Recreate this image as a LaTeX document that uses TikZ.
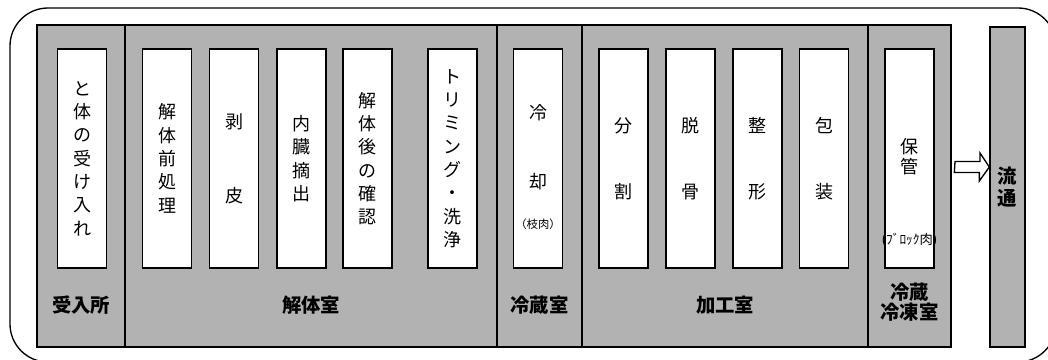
\documentclass[tikz,border=0pt]{standalone}
\usepackage{fontspec}
\setmainfont{Noto Sans CJK JP}

\begin{document}
\begin{tikzpicture}[x=0.75pt, y=-0.75pt,
	room/.style={draw, line width=1pt, fill=black!30},
	stepbox/.style={draw, line width=1.2pt, fill=white, inner sep=0pt,
		minimum width=36.75pt, minimum height=164.25pt},
	boxtext/.style={align=center, font=\fontsize{13.5}{17.5}\selectfont},
	roomname/.style={align=center, font=\fontsize{14.5}{14.5}\selectfont\bfseries},
	note/.style={inner sep=0pt, align=center}]
	\useasboundingbox (0,0) rectangle (1048,360);
	\clip (0,0) rectangle (1048,360);
	\draw[line width=1pt, rounded corners=28.5pt] (10,8) rectangle (1056,362);
	
	% rooms
	\foreach \a/\b/\n in {37/125/1, 125/497/2, 497/582/3, 582/868/4, 868/951/5}
	{
		\draw[room] (\a,25) rectangle (\b,347);
	}
	\node[roomname] (r1) at (81,305) {受入所};
	\node[roomname] (r2) at (311,305) {解体室};
	\node[roomname] (r3) at (539.5,305) {冷蔵室};
	\node[roomname] (r4) at (725,305) {加工室};
	\node[roomname] (r5) at (909.5,302) {冷蔵\\冷凍室};
	
	% working steps
	\foreach \n/\x/\txt in {
		1/82/{と\\体\\の\\受\\け\\入\\れ},
		2/167/{解\\体\\前\\処\\理},
		3/234/{剥\\[38pt]皮},
		4/301.5/{内\\臓\\摘\\出},
		5/367.5/{解\\体\\後\\の\\確\\認},
		6/452.5/{ト\\リ\\ミ\\ン\\グ\\・\\洗\\浄},
		7/538/{},
		8/623.5/{分\\[32pt]割},
		9/690.5/{脱\\[32pt]骨},
		10/757.5/{整\\[32pt]形},
		11/824/{包\\[32pt]装},
		12/909.5/{}
	}
	{
		\node[stepbox, boxtext] (b\n) at (\x,158.5) {\txt};
	}
	\node[boxtext] (cool) at (538,147.5) {冷\\[34.25pt]却};
	\node[note] (coolnote) at (538,224) {\fontsize{8.5}{9}\selectfont （枝肉）};
	\node[note, font=\fontsize{13.5}{15}\selectfont] (keep) at (909.5,157) {保\\管};
	\node[note] (keepnote) at (909.5,240) {\fontsize{10}{11}\selectfont (ﾌﾞﾛｯｸ肉)};
	
	% distribution
	\node[draw, line width=1pt, fill=black!30, inner sep=0pt, minimum width=26.25pt,
		minimum height=240pt, roomname] (flow) at (1007.5,187) {流\\[1.5pt]通};
	\coordinate (arrowtail) at (955,167);
	\draw[line width=1pt, fill=white] (arrowtail) ++(0,-5.5) -- ++(25,0) -- ++(0,-8.5)
		-- (flow.west |- arrowtail) -- ++(-10,14) -- ++(0,-8.5) -- ++(-25,0) -- cycle;
\end{tikzpicture}
\end{document}
